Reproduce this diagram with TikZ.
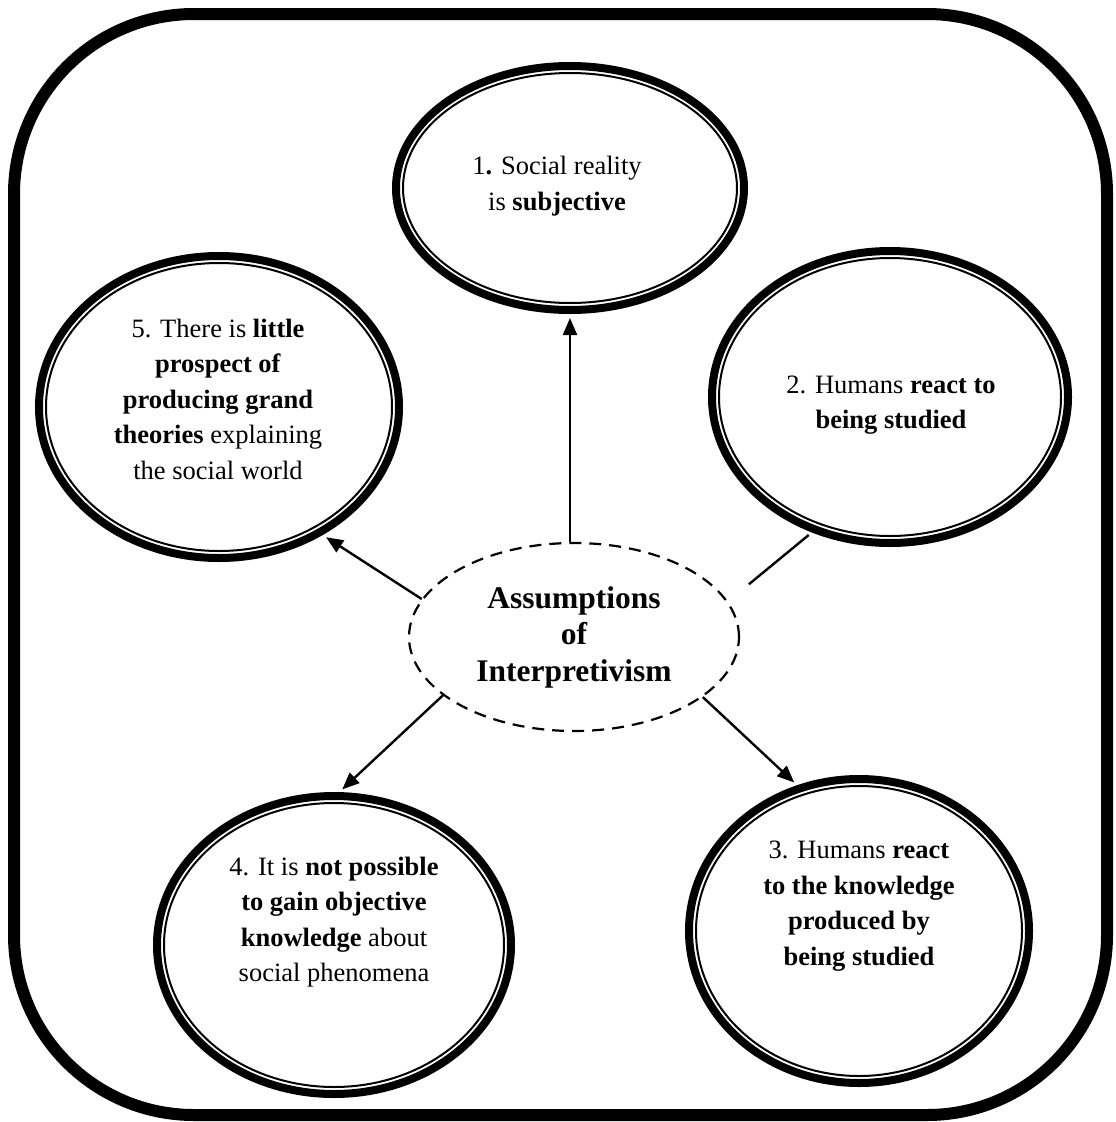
\documentclass[tikz,border=0pt]{standalone}
\usepackage{fontspec}
\setmainfont{Liberation Serif}
\usetikzlibrary{shapes.geometric,arrows.meta}

\begin{document}
\begin{tikzpicture}[x=1pt,y=-1pt,
  frame/.style={line width=12pt, rounded corners=180pt},
  bubble/.style={ellipse, draw, line width=8pt, inner sep=0pt},
  ring/.style={line width=2pt},
  txt/.style={align=center, inner sep=0pt, font=\fontsize{26.5}{35.5}\selectfont},
  hub/.style={ellipse, draw, dash pattern=on 12pt off 8pt, line width=2.2pt,
    inner sep=0pt, minimum width=330pt, minimum height=188pt, align=center,
    font=\fontsize{31.5}{36.5}\selectfont\bfseries},
  link/.style={line width=2.4pt, shorten >=4pt},
  arrow/.style={link, -{Triangle[length=17pt,width=14pt]}},
]
\useasboundingbox (0,0) rectangle (1116,1122);

% outer rounded frame
\draw[frame] (14,14) rectangle (1107,1115);

% the five assumption bubbles: heavy outer line plus a thin inner ring
\node[bubble, minimum width=348pt, minimum height=244pt] (n1) at (570,188) {};
\draw[ring] (n1.center) ellipse [x radius=167pt, y radius=115pt];

\node[bubble, minimum width=356pt, minimum height=292pt] (n2) at (890,397) {};
\draw[ring] (n2.center) ellipse [x radius=171pt, y radius=139pt];

\node[bubble, minimum width=340pt, minimum height=304pt] (n3) at (859,931) {};
\draw[ring] (n3.center) ellipse [x radius=163pt, y radius=145pt];

\node[bubble, minimum width=354pt, minimum height=298pt] (n4) at (334,945) {};
\draw[ring] (n4.center) ellipse [x radius=170pt, y radius=142pt];

\node[bubble, minimum width=360pt, minimum height=302pt] (n5) at (219,407) {};
\draw[ring] (n5.center) ellipse [x radius=173pt, y radius=144pt];

% bubble texts
\node[txt] (t1) at (557,186) {1\textbf{.} Social reality\\is \textbf{subjective}};
\node[txt] (t2) at (891,405) {2. Humans \textbf{react to}\\\textbf{being studied}};
\node[txt] (t3) at (859,906) {3. Humans \textbf{react}\\\textbf{to the knowledge}\\\textbf{produced by}\\\textbf{being studied}};
\node[txt] (t4) at (334,922) {4. It is \textbf{not possible}\\\textbf{to gain objective}\\\textbf{knowledge} about\\social phenomena};
\node[txt] (t5) at (218,399) {5. There is \textbf{little}\\\textbf{prospect of}\\\textbf{producing grand}\\\textbf{theories} explaining\\the social world};

% central dashed ellipse
\node[hub] (c) at (574,637) {Assumptions\\of\\Interpretivism};

% connectors
\draw[arrow] (c.north -| n1.south) -- (n1.south);
\draw[link, shorten <=27pt] (c.13) -- (n2.240);
\draw[arrow] (c.-25.5) -- (n3.113);
\draw[arrow] (c.204) -- (n4.88);
\draw[arrow] (c.166) -- (n5.-51);
\end{tikzpicture}
\end{document}
